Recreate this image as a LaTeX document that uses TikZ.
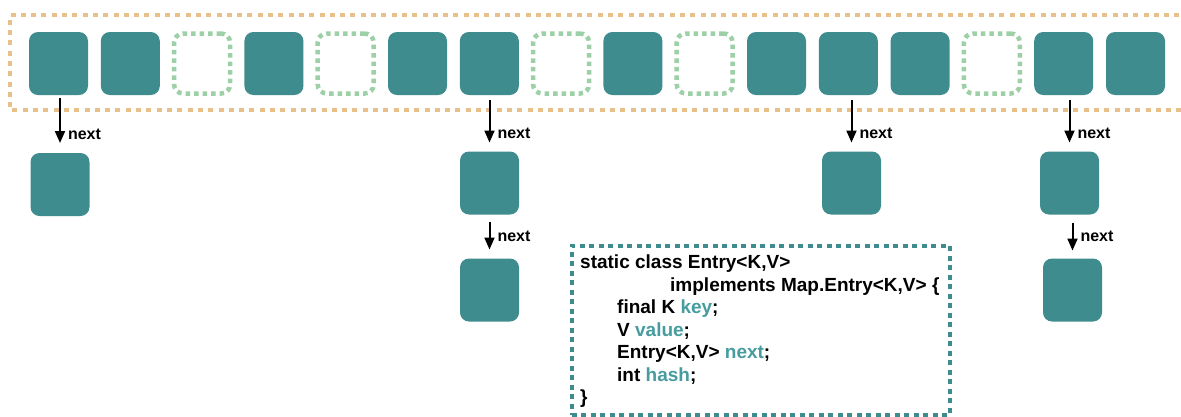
\documentclass[tikz,border=0pt]{standalone}
\usepackage{fontspec}
\setmainfont{Liberation Sans}
\usetikzlibrary{arrows.meta}
\definecolor{teal1}{HTML}{3F8C8E}
\definecolor{tealtxt}{HTML}{469C9E}
\definecolor{orng}{HTML}{E8C089}
\definecolor{grn}{HTML}{9DD0A6}
\tikzset{
  full/.style={fill=teal1, draw=none, rounded corners=9pt, minimum width=59pt, minimum height=63pt, inner sep=0pt, outer sep=0pt},
  empty/.style={draw=grn, line width=4.5pt, dash pattern=on 4.5pt off 4pt, rounded corners=9pt, minimum width=56pt, minimum height=60pt, inner sep=0pt, outer sep=0pt},
  arr/.style={line width=2pt, -{Triangle[length=12pt,width=10pt]}},
  lbl/.style={font=\bfseries\fontsize{16}{18}\selectfont, anchor=west, inner sep=0pt},
  code/.style={font=\bfseries\fontsize{19}{22}\selectfont, anchor=base west, inner sep=0pt},
}
\newcommand{\hl}[1]{\textcolor{tealtxt}{#1}}
\begin{document}
\begin{tikzpicture}[x=1pt,y=-1pt]
\clip (0,0) rectangle (1181,416);
\fill[white] (0,0) rectangle (1181,416);
% outer array frame
\draw[orng, line width=4.5pt, dash pattern=on 5pt off 5.3pt] (1200,15) -- (10,15) -- (10,110) -- (1200,110);
% bucket cells
\foreach \i/\s in {0/full,1/full,2/empty,3/full,4/empty,5/full,6/full,7/empty,8/full,9/empty,10/full,11/full,12/full,13/empty,14/full,15/full}{
  \node[\s] (t\i) at ({58.5+71.8*\i},63.5) {};
}
% chained entries
\node[full] (c0) at (60,184.5) {};
\node[full] (c6) at (489.5,183) {};
\node[full] (d6) at (489.5,290) {};
\node[full] (c11) at (851.5,183) {};
\node[full] (c14) at (1069.5,183) {};
\node[full] (d14) at (1072.5,290) {};
% arrows
\draw[arr, shorten <=3pt, shorten >=10pt] (c0.north |- t0.south) -- (c0.north) node[lbl, pos=0.68, xshift=7pt] (n0) {next};
\draw[arr, shorten <=5pt, shorten >=9pt] (c6.north |- t6.south) -- (c6.north) node[lbl, pos=0.68, xshift=7pt] (n6) {next};
\draw[arr, shorten <=7pt, shorten >=9pt] (c6.south) -- (d6.north) node[lbl, pos=0.5, xshift=7pt] (m6) {next};
\draw[arr, shorten <=5pt, shorten >=9pt] (c11.north |- t11.south) -- (c11.north) node[lbl, pos=0.68, xshift=7pt] (n11) {next};
\draw[arr, shorten <=5pt, shorten >=9pt] (c14.north |- t14.south) -- (c14.north) node[lbl, pos=0.68, xshift=7pt] (n14) {next};
\coordinate (s14) at (d14.north |- c14.south);
\draw[arr, shorten <=8pt, shorten >=8pt] (s14) -- (d14.north) node[lbl, pos=0.5, xshift=7pt] (m14) {next};
% code box
\node[draw=teal1, line width=3.5pt, dash pattern=on 5pt off 4.5pt, minimum width=378pt, minimum height=169pt, anchor=north west, inner sep=0pt] (box) at (570,244) {};
\node[code] (l1) at (580,268) {static class Entry<K,V>};
\node[code] (l2) at (670,291) {implements Map.Entry<K,V> \{};
\node[code] (l3) at (617,313.5) {final K \hl{key};};
\node[code] (l4) at (617,336) {V \hl{value};};
\node[code] (l5) at (617,358.5) {Entry<K,V> \hl{next};};
\node[code] (l6) at (617,381) {int \hl{hash};};
\node[code] (l7) at (580,403.5) {\}};
\end{tikzpicture}
\end{document}
